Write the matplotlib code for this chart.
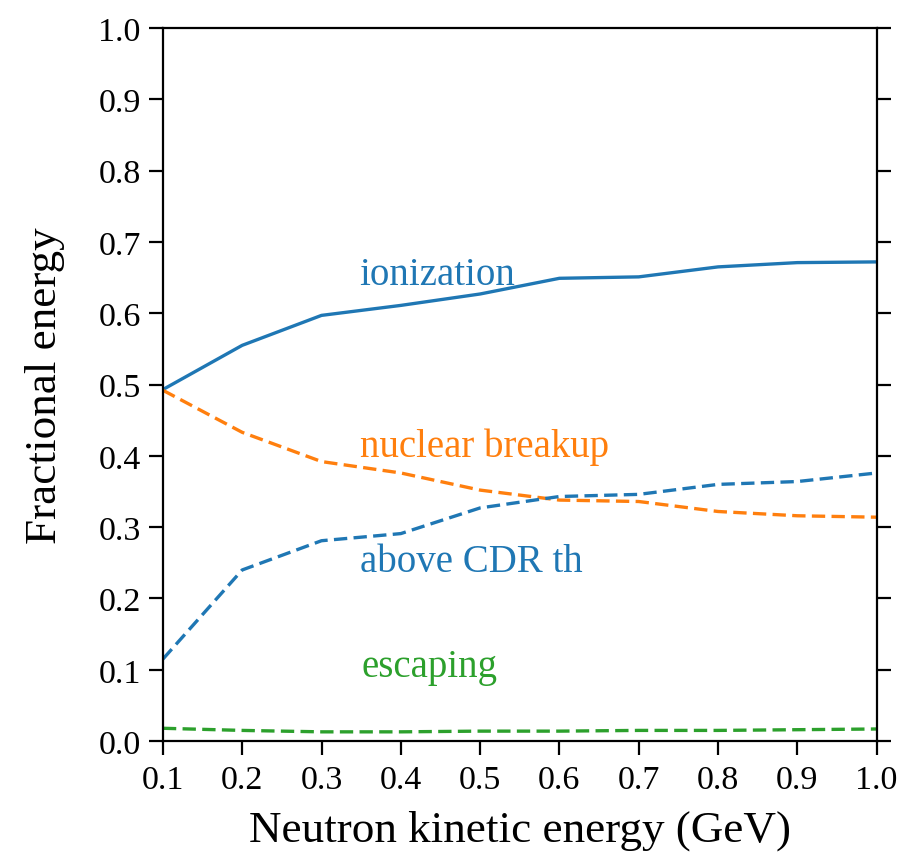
import numpy as np
import matplotlib.pyplot as plt

plt.rcParams['font.family'] = ['Liberation Serif', 'DejaVu Serif']

# neutron kinetic energy (GeV)
energy = [0.1, 0.2, 0.3, 0.4, 0.5, 0.6, 0.7, 0.8, 0.9, 1.0]

# fraction of deposited energy per channel
ionization = [0.493, 0.555, 0.597, 0.611, 0.627, 0.649, 0.651, 0.665, 0.671, 0.672]
nuclear_breakup = [0.492, 0.433, 0.392, 0.376, 0.352, 0.338, 0.336, 0.322, 0.316, 0.314]
above_cdr = [0.115, 0.240, 0.281, 0.291, 0.327, 0.343, 0.346, 0.360, 0.364, 0.376]
escaping = [0.018, 0.015, 0.013, 0.013, 0.014, 0.014, 0.015, 0.015, 0.016, 0.017]

blue = '#1f77b4'
orange = '#ff7f0e'
green = '#2ca02c'
dash = (0, (4.0, 1.9))

fig = plt.figure(figsize=(9, 8.53), dpi=100)
ax = fig.add_axes([0.181, 0.130, 0.793, 0.836])

ax.plot(energy, ionization, color=blue, lw=2.4)
ax.plot(energy, nuclear_breakup, color=orange, lw=2.4, linestyle=dash)
ax.plot(energy, above_cdr, color=blue, lw=2.4, linestyle=dash)
ax.plot(energy, escaping, color=green, lw=2.4, linestyle=dash)

fs = 28
ax.text(0.348, 0.655, 'ionization', color=blue, fontsize=fs, va='center')
ax.text(0.348, 0.414, 'nuclear breakup', color=orange, fontsize=fs, va='center')
ax.text(0.348, 0.252, 'above CDR th', color=blue, fontsize=fs, va='center')
ax.text(0.350, 0.104, 'escaping', color=green, fontsize=fs, va='center')

ax.set_xlim(0.1, 1.0)
ax.set_ylim(0.0, 1.0)
ax.set_xticks(np.arange(0.1, 1.01, 0.1))
ax.set_yticks(np.arange(0.0, 1.01, 0.1))
ax.xaxis.set_major_formatter(plt.FormatStrFormatter('%.1f'))
ax.yaxis.set_major_formatter(plt.FormatStrFormatter('%.1f'))
ax.tick_params(direction='out', length=10, width=1.6, labelsize=24.5, right=True)
ax.tick_params(axis='x', pad=7)
ax.tick_params(axis='y', pad=6)
for s in ax.spines.values():
    s.set_linewidth(1.6)

ax.set_xlabel('Neutron kinetic energy (GeV)', fontsize=32.5, labelpad=10)
ax.set_ylabel('Fractional energy', fontsize=32.5, labelpad=24)

fig.savefig('out.png', dpi=100)
